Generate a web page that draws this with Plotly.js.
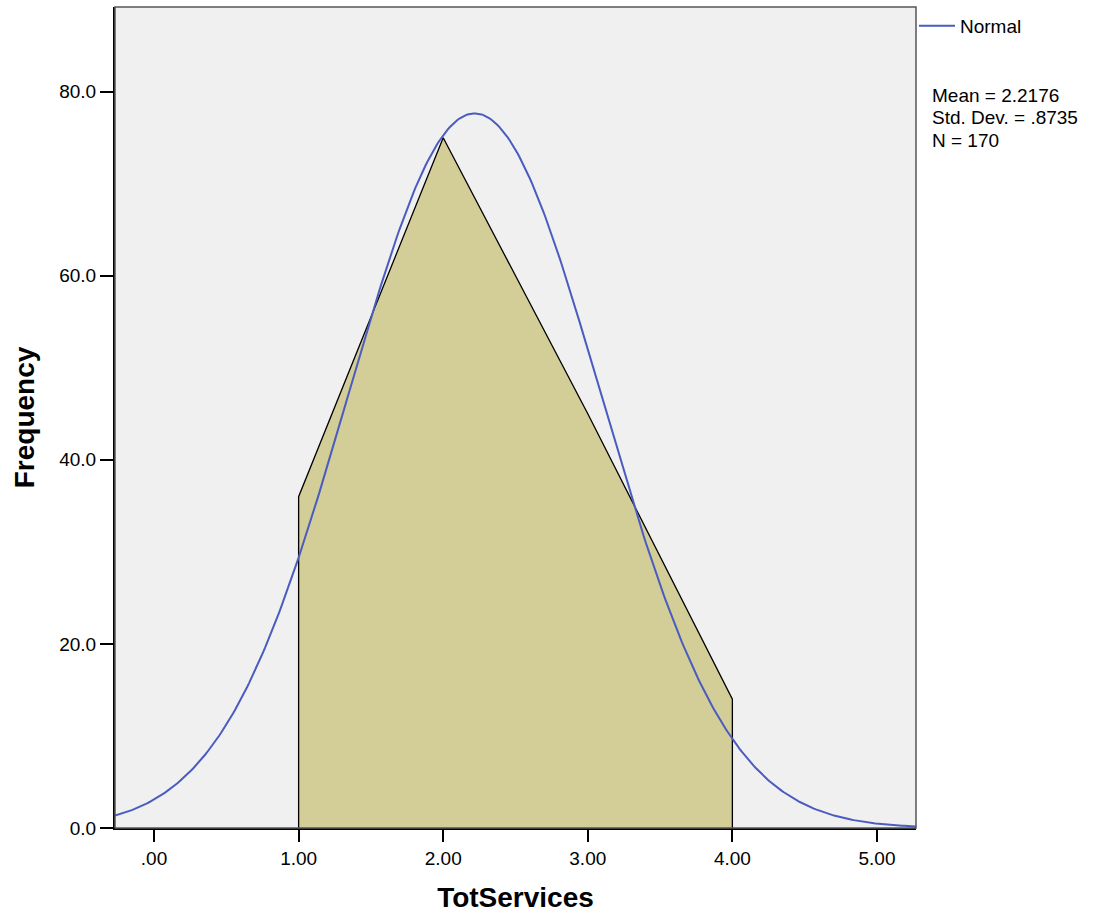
<!DOCTYPE html>
<html>
<head>
<meta charset="utf-8">
<script src="https://cdn.plot.ly/plotly-3.0.1.min.js"></script>
<style>html,body{margin:0;padding:0;background:#fff;}#chart{width:1103px;height:917px;}</style>
</head>
<body>
<div id="chart"></div>
<script>
// Frequency polygon data
var categories = [1, 2, 3, 4];
var frequencies = [36, 75, 45, 14];
// Summary statistics shown in the chart
var statMean = 2.2176;
var statSD = 0.8735;
var statN = 170;
var binWidth = 1;
// Tick labels
var xTickVals = [0, 1, 2, 3, 4, 5];
var xTickText = ['.00', '1.00', '2.00', '3.00', '4.00', '5.00'];
var yTickVals = [0, 20, 40, 60, 80];
var yTickText = ['0.0', '20.0', '40.0', '60.0', '80.0'];
var statLines = ['Mean = 2.2176', 'Std. Dev. = .8735', 'N = 170'];

// closed polygon from the data arrays
var px = [categories[0]].concat(categories, [categories[categories.length - 1]]);
var py = [0].concat(frequencies, [0]);

// fitted normal curve (from the displayed mean, SD and N)
var cx = [], cy = [];
var xmin = -0.27, xmax = 5.27, steps = 400;
for (var i = 0; i <= steps; i++) {
  var x = xmin + (xmax - xmin) * i / steps;
  var z = (x - statMean) / statSD;
  cx.push(x);
  cy.push(statN * binWidth * Math.exp(-0.5 * z * z) / (statSD * Math.sqrt(2 * Math.PI)));
}

var traces = [
  {x: px, y: py, type: 'scatter', mode: 'lines', fill: 'toself', fillcolor: '#D3CD98',
   line: {color: '#000000', width: 1.3}, showlegend: false, hoverinfo: 'skip'},
  {x: cx, y: cy, type: 'scatter', mode: 'lines', name: 'Normal',
   line: {color: '#4A5CC0', width: 2}, showlegend: true}
];

var FAM = 'Liberation Sans, Arial, sans-serif';

var annotations = statLines.map(function (t, k) {
  return {xref: 'paper', yref: 'paper', x: 1.018, y: [0.8916, 0.8648, 0.838][k],
          xanchor: 'left', yanchor: 'middle', align: 'left', showarrow: false, text: t,
          font: {family: FAM, size: 19, color: '#000'}};
});

var layout = {
  width: 1103, height: 917,
  margin: {l: 115, r: 187, t: 7, b: 89},
  paper_bgcolor: '#ffffff',
  plot_bgcolor: '#F0F0F0',
  font: {family: FAM, size: 19, color: '#000'},
  showlegend: true,
  legend: {x: 0.9975, y: 1.0, xanchor: 'left', yanchor: 'top', bgcolor: 'rgba(0,0,0,0)',
           font: {family: FAM, size: 19, color: '#000'}, itemwidth: 36},
  xaxis: {
    range: [xmin, xmax], tickvals: xTickVals, ticktext: xTickText,
    showgrid: false, zeroline: false, showline: true, linecolor: '#000', linewidth: 2,
    ticks: 'outside', ticklen: 12, tickwidth: 2, tickcolor: '#000',
    tickfont: {family: FAM, size: 19, color: '#000'},
    title: {text: 'TotServices', standoff: 20,
            font: {family: FAM, size: 28, color: '#000', weight: 'bold'}}
  },
  yaxis: {
    range: [0, 89.2], tickvals: yTickVals, ticktext: yTickText,
    showgrid: false, zeroline: false, showline: true, linecolor: '#000', linewidth: 2,
    ticks: 'outside', ticklen: 13, tickwidth: 2, tickcolor: '#000',
    tickfont: {family: FAM, size: 19, color: '#000'},
    title: {text: 'Frequency', standoff: 16,
            font: {family: FAM, size: 28, color: '#000', weight: 'bold'}}
  },
  shapes: [
    {type: 'rect', xref: 'paper', yref: 'paper', x0: 0, x1: 1, y0: 0, y1: 1,
     line: {color: '#555', width: 1.5}, fillcolor: 'rgba(0,0,0,0)'}
  ],
  annotations: annotations
};

Plotly.newPlot('chart', traces, layout, {displayModeBar: false, staticPlot: true});
</script>
</body>
</html>
